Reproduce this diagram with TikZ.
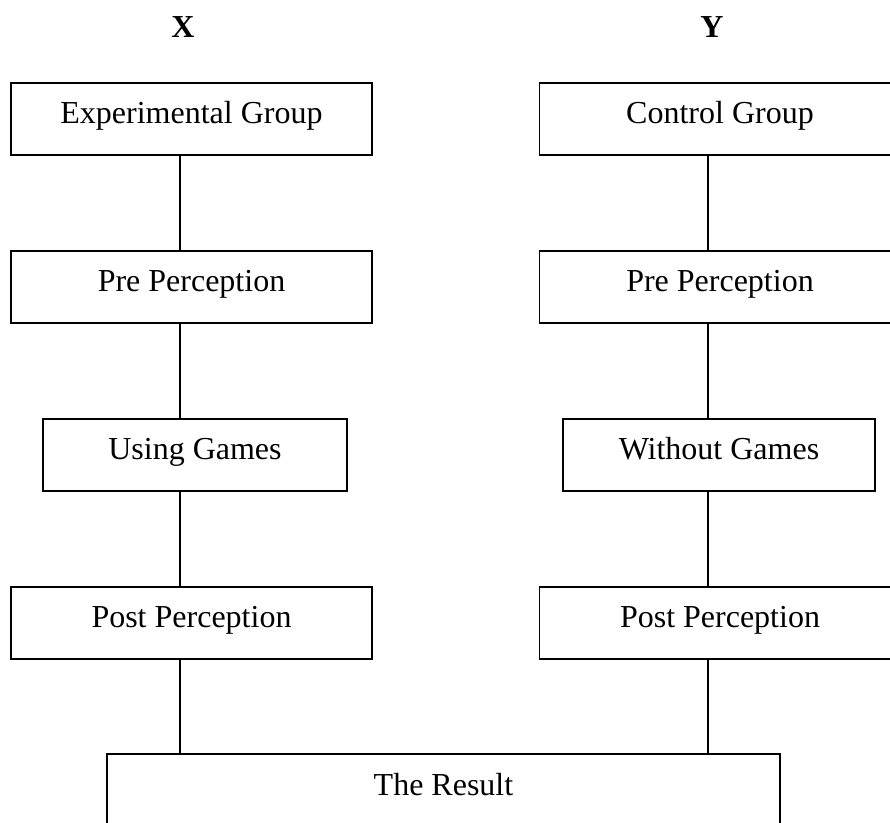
\documentclass[tikz,border=0pt]{standalone}
\usepackage{fontspec}
\setmainfont{Liberation Serif}

\tikzset{
  stagebox/.style={draw, line width=1.1pt, minimum height=54pt, inner sep=0pt, text height=12.5pt, text depth=5pt, font=\fontsize{24}{28}\selectfont},
  wide/.style={stagebox, minimum width=271pt},
  narrowl/.style={stagebox, minimum width=228pt},
  narrowr/.style={stagebox, minimum width=234pt},
  grouplabel/.style={font=\fontsize{24}{28}\selectfont\bfseries}
}

\begin{document}
\begin{tikzpicture}[x=0.75pt, y=-0.75pt]
        \useasboundingbox (0,0) rectangle (890,823);
        \coordinate (xc) at (180,0);
        \coordinate (yc) at (708,0);
        % column labels
        \node[grouplabel] (lx) at (183,27) {X};
        \node[grouplabel] (ly) at (712,27) {Y};
        % left column
        \node[wide] (expg) at (191.5,119) {Experimental Group};
        \node[wide] (prex) at (191.5,287) {Pre Perception};
        \node[narrowl] (using) at (195,455) {Using Games};
        \node[wide] (postx) at (191.5,623) {Post Perception};
        % right column
        \node[wide] (ctrlg) at (720,119) {Control Group};
        \node[wide] (prey) at (720,287) {Pre Perception};
        \node[narrowr] (without) at (719,455) {Without Games};
        \node[wide] (posty) at (720,623) {Post Perception};
        % result
        \node[stagebox, minimum width=505pt] (res) at (443.5,790) {The Result};
        % links
        \draw[line width=1.1pt] (expg.south -| xc) -- (prex.north -| xc);
        \draw[line width=1.1pt] (prex.south -| xc) -- (using.north -| xc);
        \draw[line width=1.1pt] (using.south -| xc) -- (postx.north -| xc);
        \draw[line width=1.1pt] (postx.south -| xc) -- (res.north -| xc);
        \draw[line width=1.1pt] (ctrlg.south -| yc) -- (prey.north -| yc);
        \draw[line width=1.1pt] (prey.south -| yc) -- (without.north -| yc);
        \draw[line width=1.1pt] (without.south -| yc) -- (posty.north -| yc);
        \draw[line width=1.1pt] (posty.south -| yc) -- (res.north -| yc);
    \end{tikzpicture}
\end{document}
